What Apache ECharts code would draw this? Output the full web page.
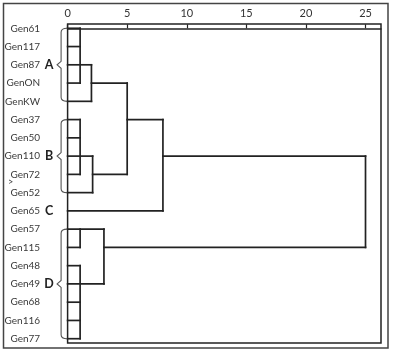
<!DOCTYPE html>
<html>
<head>
<meta charset="utf-8">
<script src="https://cdn.jsdelivr.net/npm/echarts@6/dist/echarts.min.js"></script>
<style>
html,body{margin:0;padding:0;background:#fff;}
#main{width:397px;height:357px;}
</style>
</head>
<body>
<div id="main"></div>
<script>
// Leaves (top to bottom)
const leaves = ['Gen61','Gen117','Gen87','GenON','GenKW','Gen37','Gen50','Gen110','Gen72','Gen52','Gen65','Gen57','Gen115','Gen48','Gen49','Gen68','Gen116','Gen77'];
// Top axis tick labels
const xTicks = [0, 5, 10, 15, 20, 25];
// Horizontal dendrogram segments: [row, fromDistance, toDistance]
const hLines = [
  [0, 0, 1.05], [1, 0, 1.05], [2, 0, 2.0], [3, 0, 1.05], [3, 2.0, 5.0], [4, 0, 2.0],
  [5, 0, 1.05], [5, 5.0, 8.0], [6, 0, 1.05], [7, 0, 2.1], [7, 8.0, 25.0],
  [8, 0, 1.05], [8, 2.1, 5.0], [9, 0, 2.1], [10, 0, 8.0],
  [11, 0, 3.05], [12, 0, 1.05], [12, 3.05, 25.0], [13, 0, 1.05], [14, 0, 3.05],
  [15, 0, 1.05], [16, 0, 1.05], [17, 0, 1.05]
];
// Vertical dendrogram segments: [distance, fromRow, toRow]
const vLines = [
  [1.05, 0, 3], [2.0, 2, 4], [5.0, 3, 8], [1.05, 5, 8], [2.1, 7, 9],
  [8.0, 5, 10], [25.0, 7, 12], [1.05, 11, 12], [3.05, 11, 14], [1.05, 13, 17]
];
// Cluster groups: [label, firstRow, lastRow]
const groups = [['A', 0, 4], ['B', 5, 9], ['D', 11, 17]];
// Single-leaf cluster labels: [label, row]
const singles = [['C', 10]];

const rowIdx = leaves.map((_, i) => i);
const LINE = '#222';

const chart = echarts.init(document.getElementById('main'), null, {renderer: 'canvas'});

const option = {
  backgroundColor: '#fff',
  animation: false,
  graphic: [
    {type: 'rect', shape: {x: 3.5, y: 3.5, width: 384.5, height: 344.5},
     style: {fill: 'none', stroke: '#444', lineWidth: 1.5}, z: 0},
    {type: 'text', left: 8, top: 178,
     style: {text: '>', fontSize: 9, fontFamily: 'Lato', fill: '#333'}}
  ],
  grid: {
    left: 67.6, top: 24, right: 16, bottom: 14,
    show: true, borderColor: '#222', borderWidth: 1.5, backgroundColor: 'transparent'
  },
  xAxis: {
    type: 'value', position: 'top', min: 0, max: 26.3,
    splitLine: {show: false},
    axisLine: {show: true, lineStyle: {color: '#222', width: 1.5}},
    axisTick: {show: true, length: 4, customValues: xTicks, lineStyle: {color: '#222', width: 1.2}},
    axisLabel: {customValues: xTicks, fontFamily: 'Lato', fontSize: 11, color: '#333', margin: 5}
  },
  yAxis: {
    type: 'value', inverse: true, min: -0.235, max: 17.235,
    splitLine: {show: false},
    axisLine: {show: false},
    axisTick: {show: false},
    axisLabel: {
      customValues: rowIdx,
      formatter: v => leaves[Math.round(v)] || '',
      fontFamily: 'Lato', fontSize: 10, color: '#3a3a3a', margin: 27.5
    }
  },
  series: [
    {
      type: 'custom', name: 'h', clip: false,
      encode: {x: [1, 2], y: 0},
      data: hLines,
      renderItem: (params, api) => {
        const r = api.value(0), a = api.value(1), b = api.value(2);
        const p0 = api.coord([a, r]), p1 = api.coord([b, r]);
        return {type: 'line', shape: {x1: p0[0], y1: p0[1], x2: p1[0], y2: p1[1]},
                style: {stroke: LINE, lineWidth: 1.7, lineCap: 'square'}};
      }
    },
    {
      type: 'custom', name: 'v', clip: false,
      encode: {x: 0, y: [1, 2]},
      data: vLines,
      renderItem: (params, api) => {
        const d = api.value(0), r0 = api.value(1), r1 = api.value(2);
        const p0 = api.coord([d, r0]), p1 = api.coord([d, r1]);
        return {type: 'line', shape: {x1: p0[0], y1: p0[1], x2: p1[0], y2: p1[1]},
                style: {stroke: LINE, lineWidth: 1.7, lineCap: 'square'}};
      }
    },
    {
      type: 'custom', name: 'braces', clip: false,
      encode: {y: [1, 2]},
      data: groups,
      renderItem: (params, api) => {
        const r0 = api.value(1), r1 = api.value(2);
        const lab = groups[params.dataIndex][0];
        const pt = api.coord([0, r0]), pb = api.coord([0, r1]);
        const x0 = pt[0] - 0.5, sx = pt[0] - 6.5, tx = pt[0] - 10.5;
        const y0 = pt[1], y1 = pb[1], ym = (y0 + y1) / 2;
        const d = `M${x0} ${y0} Q${sx} ${y0} ${sx} ${y0 + 4} L${sx} ${ym - 3.5} L${tx} ${ym} L${sx} ${ym + 3.5} L${sx} ${y1 - 4} Q${sx} ${y1} ${x0} ${y1}`;
        return {type: 'group', children: [
          {type: 'path', shape: {pathData: d}, style: {fill: 'none', stroke: '#555', lineWidth: 1.1}},
          {type: 'text', x: pt[0] - 18.5, y: ym,
           style: {text: lab, fontFamily: 'Lato', fontWeight: 'bold', fontSize: 12.5, fill: '#222', align: 'center', verticalAlign: 'middle'}}
        ]};
      }
    },
    {
      type: 'custom', name: 'singles', clip: false,
      encode: {y: 1},
      data: singles,
      renderItem: (params, api) => {
        const r = api.value(1);
        const lab = singles[params.dataIndex][0];
        const p = api.coord([0, r]);
        return {type: 'text', x: p[0] - 18.5, y: p[1],
                style: {text: lab, fontFamily: 'Lato', fontWeight: 'bold', fontSize: 12.5, fill: '#222', align: 'center', verticalAlign: 'middle'}};
      }
    }
  ]
};
chart.setOption(option);
</script>
</body>
</html>
